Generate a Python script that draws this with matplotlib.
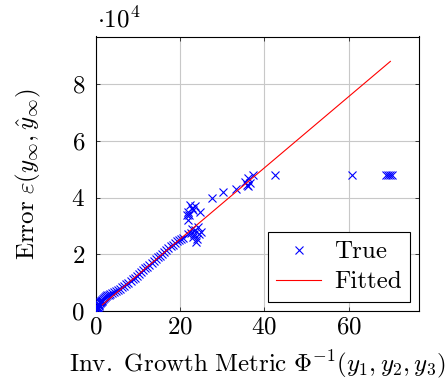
import numpy as np
import matplotlib
matplotlib.use("Agg")
import matplotlib.pyplot as plt
from matplotlib.ticker import FuncFormatter

plt.rcParams["font.family"] = "serif"
plt.rcParams["font.serif"] = ["cmr10", "DejaVu Serif"]
plt.rcParams["mathtext.fontset"] = "cm"
plt.rcParams["axes.formatter.use_mathtext"] = True

FS = 18

# ── data ──────────────────────────────────────────────────────────────────────
curve_x = [0.0, 0.1, 0.2, 0.3, 0.4, 0.5, 0.6, 0.7, 0.8, 0.9, 1.0, 1.1, 1.2, 1.35,
           1.5, 1.7, 1.9, 2.1, 2.4, 2.7, 3.0, 3.4, 3.8, 4.2, 4.7, 5.2, 5.7, 6.2,
           6.7, 7.2, 7.7, 8.2, 8.7, 9.2, 9.7, 10.2, 10.7, 11.2, 11.7, 12.2, 12.7,
           13.2, 13.7, 14.2, 14.7, 15.2, 15.7, 16.2, 16.7, 17.2, 17.7, 18.2, 18.7,
           19.2, 19.7, 20.2, 20.7]
curve_y = [0, 300, 600, 900, 1200, 1500, 1800, 2100, 2400, 2700, 3000, 3200, 3400,
           3700, 4000, 4300, 4600, 4900, 5200, 5500, 5800, 6100, 6400, 6700, 7100,
           7500, 7900, 8400, 8900, 9400, 10000, 10600, 11200, 11800, 12400, 13000,
           13700, 14300, 15000, 15600, 16300, 16900, 17600, 18200, 18900, 19500,
           20200, 20800, 21500, 22100, 22800, 23400, 24000, 24600, 25000, 25400,
           25700]

upper_x = [21.5, 21.9, 21.9, 22.3, 22.7, 23.1, 23.5, 24.7, 22.1]
upper_y = [33900, 32100, 35000, 37400, 36200, 35600, 37000, 35000, 34000]

lower_x = [21.8, 22.5, 23.0, 23.5, 24.0, 24.5, 25.0, 23.8, 22.8, 24.2, 23.3]
lower_y = [27000, 27500, 26000, 28500, 25500, 27000, 28000, 24500, 29000, 29500, 27000]

tail_x = [27.5, 30.1, 33.3, 35.4, 35.8, 36.2, 36.6, 36.0, 37.2, 42.5,
          60.8, 68.8, 69.3, 69.8, 70.3]
tail_y = [39700, 41900, 43100, 45600, 44400, 46800, 45000, 44000, 48000, 47800,
          48000, 48000, 48000, 48000, 48000]

fit_x = [1.5, 69.9]
fit_slope = 1255.0
fit_icpt = 300.0

true_x = np.array(curve_x + upper_x + lower_x + tail_x)
true_y = np.array(curve_y + upper_y + lower_y + tail_y)
fit_y = [fit_slope * v + fit_icpt for v in fit_x]

# ── plot ──────────────────────────────────────────────────────────────────────
fig = plt.figure(figsize=(4.46, 3.88), dpi=100)
ax = fig.add_axes([96 / 446, 1 - 311 / 388, 323 / 446, 274.5 / 388])

ax.plot(true_x, true_y, "x", color="blue", markersize=6, mew=0.8, label="True",
        zorder=3)
ax.plot(fit_x, fit_y, "-", color="red", linewidth=0.8, label="Fitted", zorder=4)

ax.set_xlim(0, 76.7)
ax.set_ylim(0, 96800)
ax.set_xticks([0, 20, 40, 60])
ax.set_yticks([0, 20000, 40000, 60000, 80000])
ax.yaxis.set_major_formatter(FuncFormatter(lambda v, p: f"${v / 1e4:.0f}$"))
ax.xaxis.set_major_formatter(FuncFormatter(lambda v, p: f"${v:.0f}$"))
ax.tick_params(direction="in", top=True, right=True, length=3, width=0.5,
               labelsize=FS)
ax.tick_params(axis="y", pad=8)
ax.tick_params(axis="x", pad=4)
ax.grid(True, color="#c8c8c8", linewidth=0.8)
ax.set_axisbelow(True)
for s in ax.spines.values():
    s.set_linewidth(0.8)

ax.set_xlabel(r"$\mathrm{Inv.\ Growth\ Metric}\ \Phi^{-1}(y_1,y_2,y_3)$",
              fontsize=FS, labelpad=7)
ax.set_ylabel(r"$\mathrm{Error}\ \varepsilon(y_\infty,\hat{y}_\infty)$",
              fontsize=FS, labelpad=20)
fig.text(97 / 446, 1 - 27 / 388, r"$\cdot 10^4$", fontsize=FS, ha="left",
         va="baseline")

leg = ax.legend(loc="lower right", fontsize=FS, frameon=True, fancybox=False,
                edgecolor="black", framealpha=1, borderaxespad=0.35,
                handlelength=1.8, borderpad=0.35, labelspacing=0.3,
                handletextpad=0.5)
leg.get_frame().set_linewidth(0.8)

fig.savefig("out.png", dpi=100)
